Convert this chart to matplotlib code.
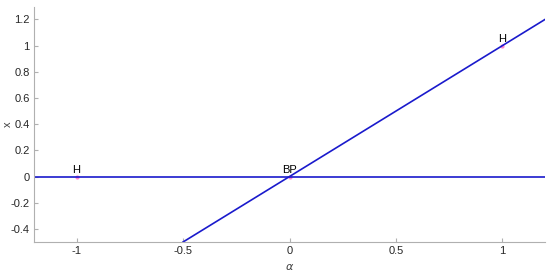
import matplotlib
matplotlib.use("Agg")
import matplotlib.pyplot as plt

plt.rcParams['font.family'] = ['Liberation Sans', 'DejaVu Sans']

# branch of trivial equilibria x = 0
alpha_trivial = [-1.2, 1.2]
x_trivial = [0.0, 0.0]
# branch x = alpha
alpha_nontrivial = [-0.5, 1.2]
x_nontrivial = [-0.5, 1.2]

# special points
pt_labels = ['H', 'BP', 'H']
pt_alpha = [-1.0, 0.0, 1.0]
pt_x = [0.0, 0.0, 1.0]

xticks = [-1, -0.5, 0, 0.5, 1]
xticklabels = ['-1', '-0.5', '0', '0.5', '1']
yticks = [-0.4, -0.2, 0, 0.2, 0.4, 0.6, 0.8, 1, 1.2]
yticklabels = ['-0.4', '-0.2', '0', '0.2', '0.4', '0.6', '0.8', '1', '1.2']

fig = plt.figure(figsize=(5.5, 2.73), dpi=100)
ax = fig.add_axes([34/550, 31/273, 511/550, 235/273])

line_col = '#1a1acc'
ax.plot(alpha_trivial, x_trivial, color=line_col, lw=1.2)
ax.plot(alpha_nontrivial, x_nontrivial, color=line_col, lw=1.2)
ax.plot(pt_alpha, pt_x, 'o', color='#ff88cc', ms=2, zorder=1)
for lab, a, xv in zip(pt_labels, pt_alpha, pt_x):
    ax.text(a, xv + 0.015, lab, ha='center', va='bottom', fontsize=8)

ax.set_xlim(-1.2, 1.2)
ax.set_ylim(-0.5, 1.295)
ax.set_xticks(xticks)
ax.set_xticklabels(xticklabels)
ax.set_yticks(yticks)
ax.set_yticklabels(yticklabels)
ax.tick_params(direction='in', length=3, colors='#b0b0b0', labelcolor='#262626',
               labelsize=8, pad=3)

for s in ['top', 'right']:
    ax.spines[s].set_visible(False)
for s in ['left', 'bottom']:
    ax.spines[s].set_color('#b0b0b0')
    ax.spines[s].set_linewidth(0.8)

ax.set_xlabel(r'$\alpha$', fontsize=8, color='#404040', labelpad=4)
ax.set_ylabel('x', fontsize=8, color='#404040', va='center')
ax.yaxis.set_label_coords(-0.052, 0.5)

fig.savefig('out.png', dpi=100)
